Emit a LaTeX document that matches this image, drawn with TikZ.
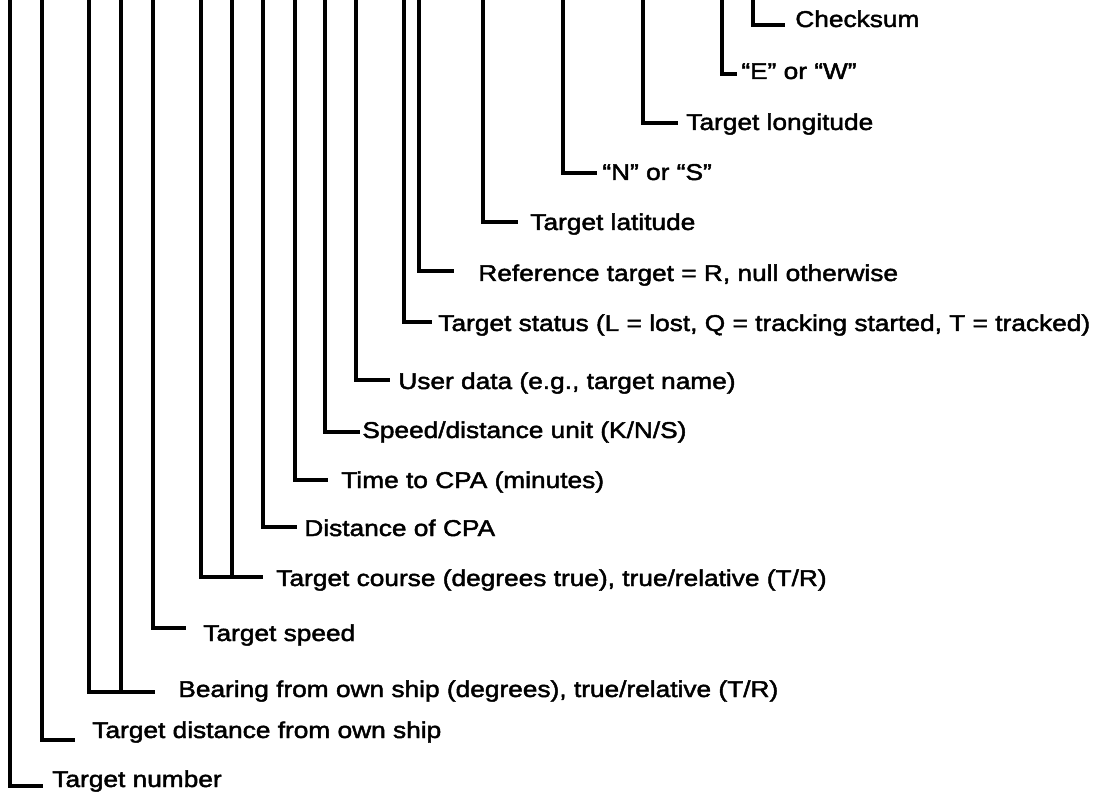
\documentclass[tikz,border=0pt]{standalone}
\usepackage{fontspec}
\setmainfont{Liberation Sans}[FakeStretch=1.15, FakeBold=2]
\tikzset{
    bar/.style={line width=2.1pt},
    lbl/.style={anchor=base west, inner sep=0pt, font=\fontsize{13}{15}\selectfont},
}
\begin{document}
\begin{tikzpicture}[x=0.02cm, y=-0.02cm]
    \useasboundingbox (0,0) rectangle (1103,804);

    % Single fields: line x / hook y / hook end / text x / baseline / name / text
    \foreach \x/\y/\e/\tx/\by/\n/\t in {
        753/25/785/795/27/cks/{Checksum},
        722/74/737/741/79/ew/{“E” or “W”},
        643/123/678/686/130/lon/{Target longitude},
        563/173/597/602/180/ns/{“N” or “S”},
        483/222/518/530/230/lat/{Target latitude},
        419/271/454/478/281/ref/{Reference target = R, null otherwise},
        404/322/432/438/331/sts/{Target status (L = lost, Q = tracking started, T = tracked)},
        356/380/390/398/389/usr/{User data (e.g., target name)},
        325/432/360/362/438/unit/{Speed/distance unit (K/N/S)},
        295/480/328/341/488/tcpa/{Time to CPA (minutes)},
        263/527/297/304/536/dcpa/{Distance of CPA},
        153/628/186/203/641/spd/{Target speed},
        42/740/75/92/738/dist/{Target distance from own ship},
        10/786/43/52/787/num/{Target number}
    } {
        \coordinate (\n top) at (\x,0);
        \coordinate (\n end) at (\e,\y);
        \node[lbl] (\n) at (\tx,\by) {\t};
        \draw[bar] (\n top) |- (\n end);
    }

    % Course: two fields on one label
    \coordinate (crs top) at (201,0);
    \coordinate (crs top2) at (232,0);
    \coordinate (crs end) at (263,577);
    \node[lbl] (crs) at (276,586) {Target course (degrees true), true/relative (T/R)};
    \draw[bar] (crs top) |- (crs end);
    \draw[bar] (crs top2) -- (crs top2 |- crs end);

    % Bearing: two fields on one label
    \coordinate (brg top) at (89,0);
    \coordinate (brg top2) at (121,0);
    \coordinate (brg end) at (155,692);
    \node[lbl] (brg) at (178,697) {Bearing from own ship (degrees), true/relative (T/R)};
    \draw[bar] (brg top) |- (brg end);
    \draw[bar] (brg top2) -- (brg top2 |- brg end);
\end{tikzpicture}
\end{document}
